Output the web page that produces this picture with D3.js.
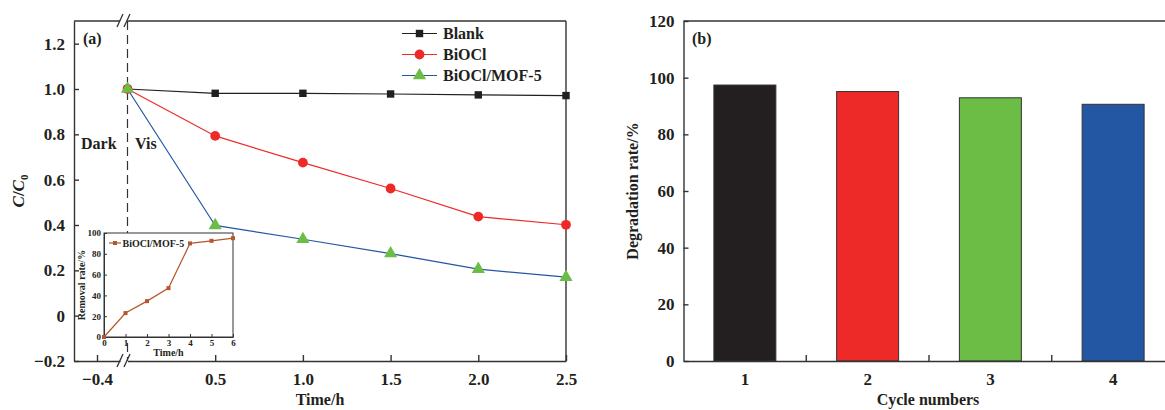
<!DOCTYPE html>
<html>
<head>
<meta charset="utf-8">
<script src="https://cdn.jsdelivr.net/npm/d3@7"></script>
<style>
  body { margin: 0; background: #fff; }
  svg text { font-family: "Liberation Serif", "Times New Roman", serif; font-weight: bold; fill: #231f20; }
  .axis path, .axis line { stroke: #333; stroke-width: 1.4; }
  .inset path, .inset line { stroke: #333; stroke-width: 1; }
</style>
</head>
<body>
<div id="chart"></div>
<script>
// ---- data ----
var times = [0, 0.5, 1.0, 1.5, 2.0, 2.5];
var blank = [1.0, 0.981, 0.981, 0.978, 0.974, 0.971];
var biocl = [1.0, 0.793, 0.675, 0.561, 0.437, 0.401];
var mof5 = [1.0, 0.398, 0.337, 0.274, 0.205, 0.170];
var seriesNames = ["Blank", "BiOCl", "BiOCl/MOF-5"];

var insetTimes = [0, 1, 2, 3, 4, 5, 6];
var insetRemoval = [0, 23, 34.5, 47, 90, 92.5, 95];

var cycles = ["1", "2", "3", "4"];
var degradation = [97.4, 95.1, 92.9, 90.6];
var barColors = ["#231f20", "#ee2a29", "#6cbd45", "#2356a3"];

var yTicksA = [-0.2, 0, 0.2, 0.4, 0.6, 0.8, 1.0, 1.2];
var xTicksA = [0.5, 1.0, 1.5, 2.0, 2.5];
var yTicksB = [0, 20, 40, 60, 80, 100, 120];

var svg = d3.select("#chart").append("svg")
  .attr("width", 1165).attr("height", 410);

// ================= panel (a) =================
var pTop = 21, pBottom = 361, pLeft = 74, pRight = 566;

var xL = d3.scaleLinear().domain([-0.5, -0.3]).range([pLeft, 120]);
var xR = d3.scaleLinear().domain([0, 2.5]).range([127.5, pRight]);
var y = d3.scaleLinear().domain([-0.2, 1.3]).range([pBottom, pTop]);

// dashed dark/vis divider
svg.append("line")
  .attr("x1", xR(0)).attr("x2", xR(0))
  .attr("y1", pTop).attr("y2", pBottom)
  .attr("stroke", "#333").attr("stroke-width", 1.2)
  .attr("stroke-dasharray", "9,5");

// y axis
svg.append("g").attr("class", "axis")
  .attr("transform", "translate(" + pLeft + ",0)")
  .call(d3.axisLeft(y).tickValues(yTicksA).tickSize(-5).tickSizeOuter(0).tickPadding(9)
    .tickFormat(function(d) { return d === 0 ? "0" : d3.format(".1f")(d); }))
  .selectAll("text").style("font-size", "17px");

// right border
svg.append("line").attr("x1", pRight).attr("x2", pRight).attr("y1", pTop).attr("y2", pBottom)
  .attr("stroke", "#333").attr("stroke-width", 1.4);

// bottom axis, two pieces
svg.append("g").attr("class", "axis")
  .attr("transform", "translate(0," + pBottom + ")")
  .call(d3.axisBottom(xL).tickValues([-0.4]).tickSize(-6).tickSizeOuter(0).tickPadding(12)
    .tickFormat(d3.format(".1f")))
  .selectAll("text").style("font-size", "17px");
svg.append("g").attr("class", "axis")
  .attr("transform", "translate(0," + pBottom + ")")
  .call(d3.axisBottom(xR).tickValues(xTicksA).tickSize(-6).tickSizeOuter(0).tickPadding(12)
    .tickFormat(d3.format(".1f")))
  .selectAll("text").style("font-size", "17px");

// top border, two pieces
svg.append("line").attr("x1", pLeft).attr("x2", xL(-0.3)).attr("y1", pTop).attr("y2", pTop)
  .attr("stroke", "#333").attr("stroke-width", 1.4);
svg.append("line").attr("x1", xR(0)).attr("x2", pRight).attr("y1", pTop).attr("y2", pTop)
  .attr("stroke", "#333").attr("stroke-width", 1.4);

// break marks
[pTop, pBottom].forEach(function(yy) {
  [117, 124].forEach(function(xx) {
    svg.append("line")
      .attr("x1", xx).attr("y1", yy + 6).attr("x2", xx + 6).attr("y2", yy - 7)
      .attr("stroke", "#333").attr("stroke-width", 1.3);
  });
});

// series
var line = d3.line()
  .x(function(d) { return xR(d[0]); })
  .y(function(d) { return y(d[1]); });

var seriesData = [blank, biocl, mof5];
var lineColors = ["#231f20", "#ee2a29", "#2556a5"];
var markColors = ["#231f20", "#ee2a29", "#6cbd45"];
var symbols = [d3.symbolSquare, d3.symbolCircle, d3.symbolTriangle];
var symSizes = [55, 75, 75];

seriesData.forEach(function(vals, i) {
  var pts = times.map(function(t, j) { return [t, vals[j]]; });
  svg.append("path").datum(pts)
    .attr("d", line).attr("fill", "none")
    .attr("stroke", lineColors[i]).attr("stroke-width", 1.2);
});
seriesData.forEach(function(vals, i) {
  var pts = times.map(function(t, j) { return [t, vals[j]]; });
  svg.append("g").selectAll("path").data(pts).enter().append("path")
    .attr("transform", function(d) { return "translate(" + xR(d[0]) + "," + y(d[1]) + ")"; })
    .attr("d", d3.symbol().type(symbols[i]).size(symSizes[i]))
    .attr("fill", markColors[i]);
});

// legend
seriesNames.forEach(function(name, i) {
  var ly = 33.5 + i * 21;
  svg.append("line").attr("x1", 402).attr("x2", 437).attr("y1", ly).attr("y2", ly)
    .attr("stroke", lineColors[i]).attr("stroke-width", 1.2);
  svg.append("path").attr("transform", "translate(419.5," + ly + ")")
    .attr("d", d3.symbol().type(symbols[i]).size(symSizes[i]))
    .attr("fill", markColors[i]);
  svg.append("text").attr("x", 443).attr("y", ly + 5.5)
    .style("font-size", "16px").text(name);
});

svg.append("text").attr("x", 83).attr("y", 44).style("font-size", "16px").text("(a)");
svg.append("text").attr("x", 81).attr("y", 149).style("font-size", "16px").text("Dark");
svg.append("text").attr("x", 135).attr("y", 149).style("font-size", "16px").text("Vis");

svg.append("text").attr("x", (pLeft + pRight) / 2).attr("y", 405)
  .attr("text-anchor", "middle").style("font-size", "16px").text("Time/h");

var yl = svg.append("text")
  .attr("transform", "translate(24," + ((pTop + pBottom) / 2) + ") rotate(-90)")
  .attr("text-anchor", "middle").style("font-size", "17px");
yl.append("tspan").style("font-style", "italic").text("C");
yl.append("tspan").text("/");
yl.append("tspan").style("font-style", "italic").text("C");
yl.append("tspan").attr("dy", 4).style("font-size", "11px").text("0");

// ---- inset ----
var ix = d3.scaleLinear().domain([0, 6]).range([104, 233]);
var iy = d3.scaleLinear().domain([0, 100]).range([337, 233]);

svg.append("rect").attr("x", ix(0)).attr("y", iy(100))
  .attr("width", ix(6) - ix(0)).attr("height", iy(0) - iy(100))
  .attr("fill", "#fff").attr("stroke", "#333").attr("stroke-width", 1);

svg.append("g").attr("class", "inset")
  .attr("transform", "translate(" + ix(0) + ",0)")
  .call(d3.axisLeft(iy).tickValues([0, 20, 40, 60, 80, 100]).tickSize(-3).tickSizeOuter(0).tickPadding(3))
  .selectAll("text").style("font-size", "9px");
svg.append("g").attr("class", "inset")
  .attr("transform", "translate(0," + iy(0) + ")")
  .call(d3.axisBottom(ix).tickValues(insetTimes).tickSize(-3).tickSizeOuter(0).tickPadding(3)
    .tickFormat(d3.format("d")))
  .selectAll("text").style("font-size", "9px");

var insetColor = "#b5562b";
svg.append("path")
  .datum(insetTimes.map(function(t, j) { return [t, insetRemoval[j]]; }))
  .attr("d", d3.line().x(function(d) { return ix(d[0]); }).y(function(d) { return iy(d[1]); }))
  .attr("fill", "none").attr("stroke", insetColor).attr("stroke-width", 1.2);
svg.append("g").selectAll("rect")
  .data(insetTimes.map(function(t, j) { return [t, insetRemoval[j]]; }))
  .enter().append("rect")
  .attr("x", function(d) { return ix(d[0]) - 2; })
  .attr("y", function(d) { return iy(d[1]) - 2; })
  .attr("width", 4).attr("height", 4).attr("fill", insetColor);

svg.append("line").attr("x1", 109).attr("x2", 121).attr("y1", 243).attr("y2", 243)
  .attr("stroke", insetColor).attr("stroke-width", 1.2);
svg.append("rect").attr("x", 113).attr("y", 241).attr("width", 4).attr("height", 4).attr("fill", insetColor);
svg.append("text").attr("x", 122.5).attr("y", 246.5).style("font-size", "10px").text("BiOCl/MOF-5");

svg.append("text").attr("x", (ix(0) + ix(6)) / 2).attr("y", 356)
  .attr("text-anchor", "middle").style("font-size", "10px").text("Time/h");
svg.append("text")
  .attr("transform", "translate(85," + ((iy(0) + iy(100)) / 2) + ") rotate(-90)")
  .attr("text-anchor", "middle").style("font-size", "10px").text("Removal rate/%");

// ================= panel (b) =================
var bLeft = 683.5, bRight = 1174.5;
var xb = d3.scaleBand().domain(cycles).range([bLeft, bRight])
  .paddingInner(0.495).paddingOuter(0.2475);
var yb = d3.scaleLinear().domain([0, 120]).range([pBottom, pTop]);

svg.append("g").selectAll("rect").data(cycles).enter().append("rect")
  .attr("x", function(d) { return xb(d); })
  .attr("y", function(d, i) { return yb(degradation[i]); })
  .attr("width", xb.bandwidth())
  .attr("height", function(d, i) { return yb(0) - yb(degradation[i]); })
  .attr("fill", function(d, i) { return barColors[i]; })
  .attr("stroke", "#333").attr("stroke-width", 1);

svg.append("g").attr("class", "axis")
  .attr("transform", "translate(" + bLeft + ",0)")
  .call(d3.axisLeft(yb).tickValues(yTicksB).tickSize(-5).tickSizeOuter(0).tickPadding(9))
  .selectAll("text").style("font-size", "17px");

var xbAxis = svg.append("g").attr("class", "axis")
  .attr("transform", "translate(0," + pBottom + ")")
  .call(d3.axisBottom(xb).tickSize(0).tickSizeOuter(0).tickPadding(12));
xbAxis.selectAll("text").style("font-size", "17px");

// ticks between categories
svg.append("g").selectAll("line").data(cycles.slice(0, 3)).enter().append("line")
  .attr("x1", function(d) { return xb(d) + xb.bandwidth() + (xb.step() - xb.bandwidth()) / 2; })
  .attr("x2", function(d) { return xb(d) + xb.bandwidth() + (xb.step() - xb.bandwidth()) / 2; })
  .attr("y1", pBottom).attr("y2", pBottom - 6)
  .attr("stroke", "#333").attr("stroke-width", 1.4);

svg.append("line").attr("x1", bLeft).attr("x2", bRight).attr("y1", pTop).attr("y2", pTop)
  .attr("stroke", "#333").attr("stroke-width", 1.4);

svg.append("text").attr("x", 692).attr("y", 44).style("font-size", "16px").text("(b)");
svg.append("text").attr("x", 928).attr("y", 405)
  .attr("text-anchor", "middle").style("font-size", "16px").text("Cycle numbers");
svg.append("text")
  .attr("transform", "translate(638," + ((pTop + pBottom) / 2) + ") rotate(-90)")
  .attr("text-anchor", "middle").style("font-size", "16px").text("Degradation rate/%");
</script>
</body>
</html>
